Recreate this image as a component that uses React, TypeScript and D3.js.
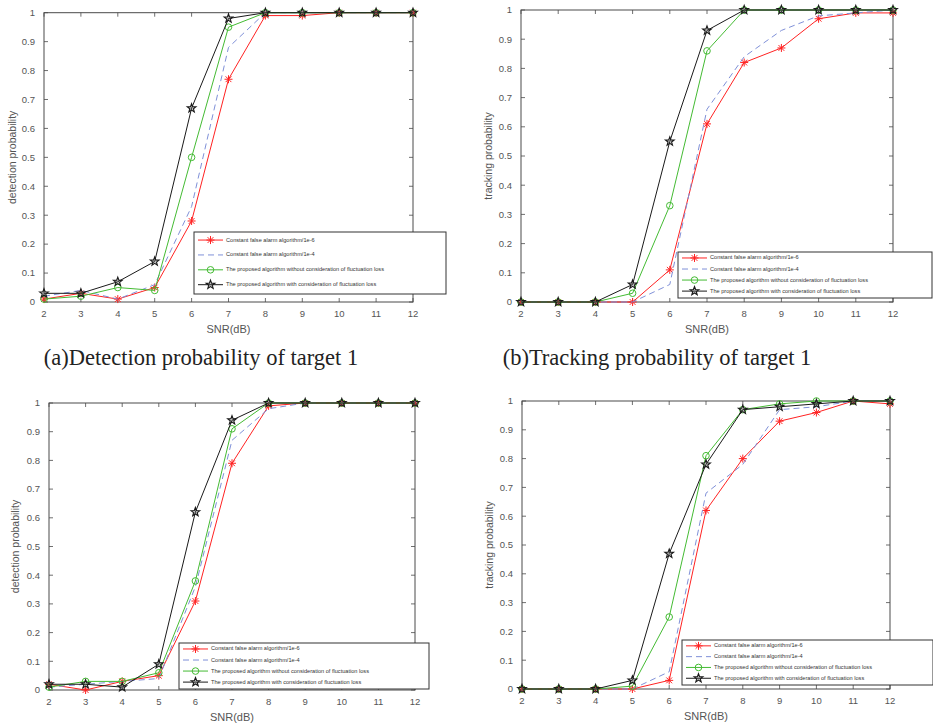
import React from "react";
import * as d3 from "d3";

const W = 933;
const H = 727;

const snr = [2, 3, 4, 5, 6, 7, 8, 9, 10, 11, 12];
const yTicks = [0, 0.1, 0.2, 0.3, 0.4, 0.5, 0.6, 0.7, 0.8, 0.9, 1];

const seriesNames = [
  "Constant false alarm algorithm/1e-6",
  "Constant false alarm algorithm/1e-4",
  "The proposed algorithm without consideration of fluctuation loss",
  "The proposed algorithm with consideration of fluctuation loss",
];

// target 1
const detect1Cfar6 = [0.01, 0.03, 0.01, 0.05, 0.28, 0.77, 0.99, 0.99, 1, 1, 1];
const detect1Cfar4 = [0.02, 0.04, 0.01, 0.06, 0.33, 0.88, 1, 1, 1, 1, 1];
const detect1NoFluct = [0.01, 0.02, 0.05, 0.04, 0.5, 0.95, 1, 1, 1, 1, 1];
const detect1Fluct = [0.03, 0.03, 0.07, 0.14, 0.67, 0.98, 1, 1, 1, 1, 1];

const track1Cfar6 = [0, 0, 0, 0, 0.11, 0.61, 0.82, 0.87, 0.97, 0.99, 0.99];
const track1Cfar4 = [0, 0, 0, 0, 0.06, 0.66, 0.84, 0.93, 0.98, 0.99, 1];
const track1NoFluct = [0, 0, 0, 0.03, 0.33, 0.86, 1, 1, 1, 1, 1];
const track1Fluct = [0, 0, 0, 0.06, 0.55, 0.93, 1, 1, 1, 1, 1];

// target 2
const detect2Cfar6 = [0.02, 0, 0.03, 0.05, 0.31, 0.79, 0.99, 1, 1, 1, 1];
const detect2Cfar4 = [0.01, 0.02, 0.03, 0.04, 0.36, 0.87, 0.98, 1, 1, 1, 1];
const detect2NoFluct = [0.01, 0.03, 0.03, 0.06, 0.38, 0.91, 1, 1, 1, 1, 1];
const detect2Fluct = [0.02, 0.02, 0.01, 0.09, 0.62, 0.94, 1, 1, 1, 1, 1];

const track2Cfar6 = [0, 0, 0, 0, 0.03, 0.62, 0.8, 0.93, 0.96, 1, 0.99];
const track2Cfar4 = [0, 0, 0, 0, 0.06, 0.68, 0.78, 0.97, 0.98, 1, 1];
const track2NoFluct = [0, 0, 0, 0.01, 0.25, 0.81, 0.97, 0.99, 1, 1, 1];
const track2Fluct = [0, 0, 0, 0.03, 0.47, 0.78, 0.97, 0.98, 0.99, 1, 1];

const styles = [
  { color: "#ff2222", dash: null, marker: "asterisk" },
  { color: "#7f90d8", dash: "6,4", marker: "none" },
  { color: "#44bb33", dash: null, marker: "circle" },
  { color: "#1a1a1a", dash: null, marker: "star" },
];

const panels = [
  {
    frame: { l: 44, r: 413, t: 12.7, b: 302 },
    yLabel: "detection probability",
    yLabelX: 12,
    series: [detect1Cfar6, detect1Cfar4, detect1NoFluct, detect1Fluct],
    legend: { x: 194, y: 232, w: 252, h: 62 },
    caption: "(a)Detection probability of target 1",
    captionX: 201,
  },
  {
    frame: { l: 521, r: 893, t: 10, b: 302 },
    yLabel: "tracking probability",
    yLabelX: 488,
    series: [track1Cfar6, track1Cfar4, track1NoFluct, track1Fluct],
    legend: { x: 678, y: 252, w: 254, h: 46 },
    caption: "(b)Tracking probability of target 1",
    captionX: 657,
  },
  {
    frame: { l: 49, r: 415, t: 403, b: 690 },
    yLabel: "detection probability",
    yLabelX: 15,
    series: [detect2Cfar6, detect2Cfar4, detect2NoFluct, detect2Fluct],
    legend: { x: 179, y: 643, w: 250, h: 46 },
    caption: null,
    captionX: 0,
  },
  {
    frame: { l: 522, r: 890, t: 401, b: 689 },
    yLabel: "tracking probability",
    yLabelX: 489,
    series: [track2Cfar6, track2Cfar4, track2NoFluct, track2Fluct],
    legend: { x: 682, y: 640, w: 251, h: 45 },
    caption: null,
    captionX: 0,
  },
];

const sans = "'Liberation Sans', Arial, sans-serif";

function Marker({ kind, x, y, color }: { kind: string; x: number; y: number; color: string }) {
  if (kind === "asterisk") {
    const s = 4;
    const d = s * 0.72;
    return (
      <g stroke={color} strokeWidth={1}>
        <line x1={x - s} y1={y} x2={x + s} y2={y} />
        <line x1={x} y1={y - s} x2={x} y2={y + s} />
        <line x1={x - d} y1={y - d} x2={x + d} y2={y + d} />
        <line x1={x - d} y1={y + d} x2={x + d} y2={y - d} />
      </g>
    );
  }
  if (kind === "circle") {
    return <circle cx={x} cy={y} r={3.3} fill="none" stroke={color} strokeWidth={1} />;
  }
  if (kind === "star") {
    const pts: string[] = [];
    for (let i = 0; i < 10; i++) {
      const r = i % 2 === 0 ? 4.6 : 1.9;
      const a = -Math.PI / 2 + (i * Math.PI) / 5;
      pts.push(`${x + r * Math.cos(a)},${y + r * Math.sin(a)}`);
    }
    return <polygon points={pts.join(" ")} fill="#555" fillOpacity={0.35} stroke={color} strokeWidth={1.1} />;
  }
  return null;
}

function Panel({ p }: { p: (typeof panels)[number] }) {
  const { l, r, t, b } = p.frame;
  const x = d3.scaleLinear().domain([2, 12]).range([l, r]);
  const y = d3.scaleLinear().domain([0, 1]).range([b, t]);
  const line = d3
    .line<number>()
    .x((_, i) => x(snr[i]))
    .y((d) => y(d));
  const axisColor = "#4a4a4a";
  const tickColor = "#555";
  const tk = 4;
  const lg = p.legend;
  return (
    <g>
      <rect x={l} y={t} width={r - l} height={b - t} fill="white" stroke={axisColor} strokeWidth={1} />
      {snr.map((v) => (
        <g key={"x" + v} stroke={axisColor} strokeWidth={0.8}>
          <line x1={x(v)} x2={x(v)} y1={b} y2={b - tk} />
          <line x1={x(v)} x2={x(v)} y1={t} y2={t + tk} />
        </g>
      ))}
      {yTicks.map((v) => (
        <g key={"y" + v} stroke={axisColor} strokeWidth={0.8}>
          <line x1={l} x2={l + tk} y1={y(v)} y2={y(v)} />
          <line x1={r} x2={r - tk} y1={y(v)} y2={y(v)} />
        </g>
      ))}
      {snr.map((v) => (
        <text key={"xl" + v} x={x(v)} y={b + 14.5} textAnchor="middle" fontSize={9.5} fill={tickColor} fontFamily={sans}>
          {v}
        </text>
      ))}
      {yTicks.map((v) => (
        <text key={"yl" + v} x={l - 9} y={y(v) + 3.3} textAnchor="end" fontSize={9.5} fill={tickColor} fontFamily={sans}>
          {d3.format("~g")(v)}
        </text>
      ))}
      <text x={(l + r) / 2} y={b + 31} textAnchor="middle" fontSize={11} fill={tickColor} fontFamily={sans}>
        SNR(dB)
      </text>
      <text
        transform={`translate(${p.yLabelX + 4},${(t + b) / 2}) rotate(-90)`}
        textAnchor="middle"
        fontSize={10.5}
        fill={tickColor}
        fontFamily={sans}
      >
        {p.yLabel}
      </text>
      {p.series.map((s, si) => (
        <g key={"s" + si}>
          <path
            d={line(s) || ""}
            fill="none"
            stroke={styles[si].color}
            strokeWidth={1}
            strokeDasharray={styles[si].dash || undefined}
          />
          {s.map((v, i) => (
            <Marker key={i} kind={styles[si].marker} x={x(snr[i])} y={y(v)} color={styles[si].color} />
          ))}
        </g>
      ))}
      <rect x={lg.x} y={lg.y} width={lg.w} height={lg.h} fill="white" stroke="#333" strokeWidth={1} />
      {seriesNames.map((name, i) => {
        const ry = lg.y + lg.h * (0.13 + i * 0.24);
        const x0 = lg.x + 4;
        const x1 = lg.x + 29;
        return (
          <g key={"lg" + i}>
            <line
              x1={x0}
              x2={x1}
              y1={ry}
              y2={ry}
              stroke={styles[i].color}
              strokeWidth={1}
              strokeDasharray={styles[i].dash || undefined}
            />
            <Marker kind={styles[i].marker} x={(x0 + x1) / 2} y={ry} color={styles[i].color} />
            <text x={lg.x + 32} y={ry + 1.5} fontSize={5.6} fill="#333" fontFamily={sans}>
              {name}
            </text>
          </g>
        );
      })}
    </g>
  );
}

export default function App() {
  return (
    <svg
      width={W}
      height={H}
      style={{ position: "absolute", left: 0, top: 0, background: "white" }}
    >
      {panels.map((p, i) => (
        <Panel key={i} p={p} />
      ))}
      {panels.map((p, i) =>
        p.caption ? (
          <text
            key={"c" + i}
            x={p.captionX}
            y={365}
            textAnchor="middle"
            fontSize={22.5}
            fill="#222"
            fontFamily="'Liberation Serif', 'DejaVu Serif', serif"
          >
            {p.caption}
          </text>
        ) : null
      )}
    </svg>
  );
}
